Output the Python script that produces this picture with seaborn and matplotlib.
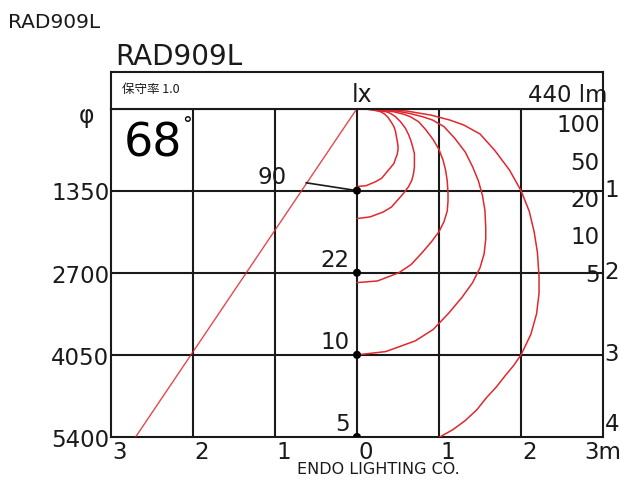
import numpy as np
import pandas as pd
import matplotlib.pyplot as plt
import seaborn as sns

sns.set_theme(style="white")
plt.rcParams['font.family'] = ['DejaVu Sans', 'Noto Sans CJK JP']

model_name = "RAD909L"
beam_angle = 68
lumen_text = "440 lm"
maint_text = "保守率 1.0"
maker_text = "ENDO LIGHTING CO."

# distancia (m), diametro del haz (mm), lux en el centro
depths = [1, 2, 3, 4]
diameters = [1350, 2700, 4050, 5400]
center_lux = [90, 22, 10, 5]

# etiquetas de ejes
x_ticks = [-3, -2, -1, 0, 1, 2, 3]
x_labels = ["3", "2", "1", "0", "1", "2", "3m"]
lux_levels = [100, 50, 20, 10, 5]

# curvas isolux (x en m, profundidad en m)
c100_x = [0.00, 0.11, 0.23, 0.30, 0.35, 0.40, 0.45, 0.47, 0.49, 0.50, 0.50, 0.49, 0.48, 0.47, 0.45, 0.42, 0.38, 0.34, 0.29, 0.25, 0.20, 0.13, 0.00]
c100_d = [0.95, 0.94, 0.89, 0.85, 0.79, 0.73, 0.67, 0.61, 0.56, 0.50, 0.46, 0.39, 0.34, 0.28, 0.22, 0.17, 0.11, 0.07, 0.04, 0.03, 0.02, 0.01, 0.00]
c50_x = [0.00, 0.16, 0.32, 0.42, 0.50, 0.57, 0.63, 0.67, 0.69, 0.70, 0.70, 0.70, 0.68, 0.66, 0.63, 0.59, 0.53, 0.47, 0.41, 0.36, 0.28, 0.19, 0.00]
c50_d = [1.34, 1.32, 1.26, 1.20, 1.11, 1.03, 0.95, 0.87, 0.79, 0.71, 0.65, 0.55, 0.47, 0.40, 0.32, 0.24, 0.16, 0.10, 0.06, 0.04, 0.03, 0.01, 0.00]
c20_x = [0.00, 0.25, 0.51, 0.66, 0.79, 0.91, 1.00, 1.06, 1.10, 1.11, 1.11, 1.10, 1.08, 1.05, 1.00, 0.93, 0.84, 0.75, 0.65, 0.57, 0.45, 0.30, 0.00]
c20_d = [2.12, 2.10, 2.00, 1.90, 1.76, 1.62, 1.50, 1.38, 1.25, 1.13, 1.03, 0.88, 0.75, 0.63, 0.50, 0.38, 0.26, 0.16, 0.10, 0.07, 0.04, 0.02, 0.00]
c10_x = [0.00, 0.35, 0.71, 0.93, 1.12, 1.28, 1.41, 1.50, 1.55, 1.57, 1.57, 1.56, 1.53, 1.48, 1.41, 1.32, 1.19, 1.06, 0.92, 0.80, 0.64, 0.42, 0.00]
c10_d = [3.00, 2.96, 2.83, 2.69, 2.49, 2.30, 2.12, 1.94, 1.77, 1.59, 1.45, 1.24, 1.06, 0.88, 0.71, 0.53, 0.36, 0.22, 0.14, 0.10, 0.06, 0.02, 0.00]
c5_x = [0.00, 0.50, 1.01, 1.17, 1.32, 1.46, 1.58, 1.70, 1.81, 1.91, 2.00, 2.12, 2.19, 2.22, 2.22, 2.20, 2.16, 2.10, 2.00, 1.86, 1.68, 1.50, 1.30, 1.13, 0.90, 0.60, 0.00]
c5_d = [4.24, 4.19, 4.00, 3.91, 3.80, 3.67, 3.52, 3.39, 3.25, 3.13, 3.00, 2.75, 2.50, 2.25, 2.05, 1.75, 1.50, 1.25, 1.00, 0.75, 0.51, 0.31, 0.20, 0.14, 0.08, 0.03, 0.00]

curvas = {100: (c100_x, c100_d), 50: (c50_x, c50_d), 20: (c20_x, c20_d),
          10: (c10_x, c10_d), 5: (c5_x, c5_d)}
filas = []
for lux, (xs, ds) in curvas.items():
    for i, (x, d) in enumerate(zip(xs, ds)):
        filas.append({'lux': lux, 'orden': i, 'x': x, 'd': d})
df_curvas = pd.DataFrame(filas)

# linea del haz: mitad del diametro a cada distancia
df_haz = pd.DataFrame({'x': [0] + [-dm / 2000 for dm in diameters],
                       'd': [0] + depths})
df_centro = pd.DataFrame({'x': [0] * len(depths), 'd': depths})

W, H = 620, 482
fig = plt.figure(figsize=(W / 100, H / 100), dpi=100)
fig.patch.set_facecolor('white')

def fx(px):
    return px / W

def fy(py):
    return 1 - py / H

ink = '#1a1a1a'
red = '#e0282e'

ax = fig.add_axes([fx(111), fy(437), (603 - 111) / W, (437 - 108.5) / H])
ax_head = fig.add_axes([fx(111), fy(108.5), (603 - 111) / W, (108.5 - 72) / H])

for a in (ax, ax_head):
    for sp in a.spines.values():
        sp.set_color(ink)
        sp.set_linewidth(1.5)
    a.set_xticks([])
    a.set_yticks([])
    a.set_xlabel('')
    a.set_ylabel('')

ax.set_xlim(-3, 3)
ax.set_ylim(4, 0)
for xv in x_ticks[1:-1]:
    ax.axvline(xv, color=ink, lw=1.5, zorder=1)
for dv in depths[:-1]:
    ax.axhline(dv, color=ink, lw=1.5, zorder=1)

sns.lineplot(data=df_curvas, x='x', y='d', units='lux', estimator=None, sort=False,
             color=red, lw=1.1, ax=ax, zorder=3, legend=False)
sns.lineplot(data=df_haz, x='x', y='d', sort=False, estimator=None,
             color=red, lw=1.0, alpha=0.85, ax=ax, zorder=3)
sns.scatterplot(data=df_centro, x='x', y='d', color='black', s=34, ax=ax,
                zorder=5, edgecolor='none')
ax.set_xlabel('')
ax.set_ylabel('')
ax.set_xlim(-3, 3)
ax.set_ylim(4, 0)

fs = 16.5
# etiquetas izquierda (diametro)
for d, dm in zip(depths, diameters):
    ax.text(-3.02, d + 0.04, str(dm), ha='right', va='center', fontsize=fs,
            color=ink, clip_on=False)
# etiquetas derecha (distancia)
for d in depths:
    yy = d if d < 4 else d - 0.15
    ax.text(3.02, yy, str(d), ha='left', va='center', fontsize=fs,
            color=ink, clip_on=False)
# etiquetas inferiores
for xv, lab in zip(x_ticks, x_labels):
    if lab.endswith('m'):
        ax.text(xv, 4.19, lab, ha='center', va='center', fontsize=fs,
                color=ink, clip_on=False)
    else:
        ax.text(xv + 0.02, 4.19, lab, ha='left', va='center', fontsize=fs,
                color=ink, clip_on=False)
# niveles de lux a la derecha
for i, lv in enumerate(lux_levels):
    ax.text(2.96, 0.21 + 0.455 * i, str(lv), ha='right', va='center',
            fontsize=fs, color=ink)
# lux en el centro
for i, (d, lv) in enumerate(zip(depths, center_lux)):
    if i == 0:
        ax.annotate(str(lv), xy=(0, d), xytext=(-1.04, d - 0.16),
                    ha='center', va='center', fontsize=fs, color=ink,
                    arrowprops=dict(arrowstyle='-', color=ink, lw=1.2,
                                    shrinkA=12, shrinkB=0))
    else:
        ax.text(-0.09, d - 0.15, str(lv), ha='right', va='center',
                fontsize=fs, color=ink)

ax.text(-2.85, 0.43, str(beam_angle), ha='left', va='center', fontsize=33,
        color='black')
ax.text(-2.13, 0.19, "°", ha='left', va='center', fontsize=14, color='black')

# cabecera
fig.text(fx(122), fy(90), maint_text, ha='left', va='center', fontsize=9,
         color=ink, family=['Noto Sans CJK JP', 'DejaVu Sans'])
fig.text(fx(362), fy(95), "lx", ha='center', va='center', fontsize=17, color=ink)
fig.text(fx(607), fy(95), lumen_text, ha='right', va='center', fontsize=16.5,
         color=ink, zorder=0)
fig.text(fx(86), fy(116), "φ", ha='center', va='center', fontsize=17, color=ink)

fig.text(fx(115), fy(57), model_name, ha='left', va='center', fontsize=20, color=ink)
fig.text(fx(8), fy(22), model_name, ha='left', va='center', fontsize=14.5, color=ink)
fig.text(fx(378), fy(470), maker_text, ha='center', va='center', fontsize=11.5,
         color=ink)

plt.savefig('out.png', dpi=100, facecolor='white')
